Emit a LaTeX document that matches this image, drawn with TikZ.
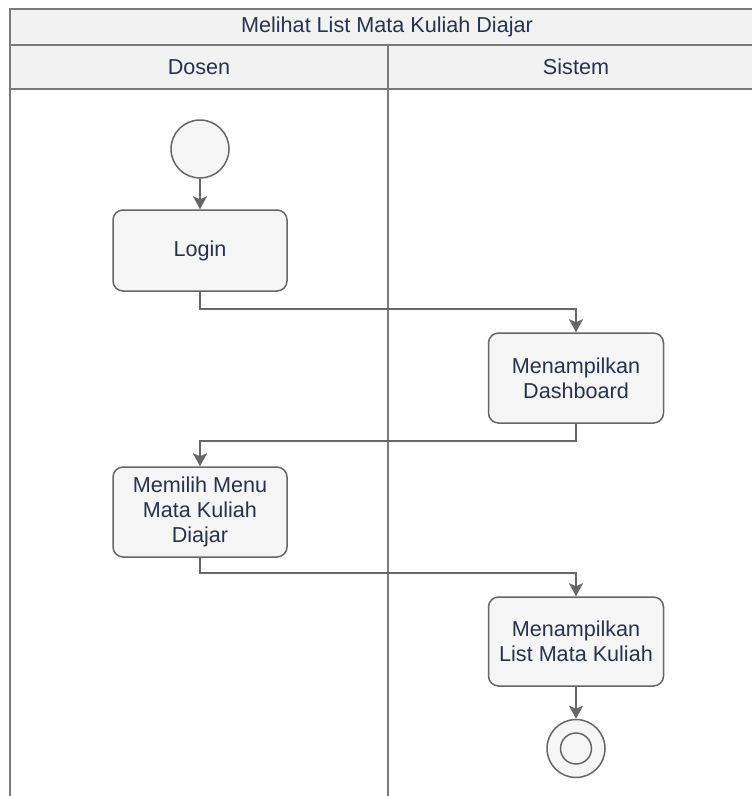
\documentclass[tikz,border=0pt]{standalone}
\usepackage{fontspec}
\setmainfont{Liberation Sans}
\usetikzlibrary{arrows.meta}
\definecolor{txt}{HTML}{27324D}
\definecolor{stroke}{HTML}{666666}
\definecolor{lane}{HTML}{7A7A7A}
\definecolor{boxfill}{HTML}{F5F5F5}
\definecolor{headfill}{HTML}{F2F2F2}
\tikzset{
  lbl/.style={text=txt, font=\fontsize{21.6}{25}\selectfont},
  actbox/.style={draw=stroke, fill=boxfill, line width=1.5pt, rounded corners=10pt,
    align=center, text=txt, font=\fontsize{21.6}{25}\selectfont, inner sep=0pt},
  startnode/.style={circle, draw=stroke, fill=boxfill, line width=1.5pt, minimum size=58pt, inner sep=0pt},
  arr/.style={draw=stroke, line width=2pt, -{Stealth[length=13pt,width=14pt,inset=3pt]}},
  laneline/.style={draw=lane, line width=2pt},
}
\begin{document}
\begin{tikzpicture}[x=1pt,y=-1pt]
\useasboundingbox (0,0) rectangle (752,796);
\clip (0,0) rectangle (752,796);
\fill[white] (0,0) rectangle (752,796);
% swimlane frame
\path[laneline, fill=headfill] (10,9) rectangle (764,45);
\path[laneline, fill=headfill] (10,45) rectangle (764,89);
\draw[laneline] (10,89) -- (10,800);
\draw[laneline] (388,45) -- (388,800);
\draw[laneline] (764,89) -- (764,800);
\node[lbl] (title) at (387,27) {Melihat List Mata Kuliah Diajar};
\node[lbl] (dosen) at (199,67) {Dosen};
\node[lbl] (sistem) at (576,67) {Sistem};
% activities
\node[startnode] (start) at (200,149) {};
\node[actbox, minimum width=174pt, minimum height=81pt] (login) at (200,250.5) {Login};
\node[actbox, minimum width=175pt, minimum height=90pt] (dash) at (576,378) {Menampilkan\\Dashboard};
\node[actbox, minimum width=174pt, minimum height=90pt] (memilih) at (200,512) {Memilih Menu\\Mata Kuliah\\Diajar};
\node[actbox, minimum width=175pt, minimum height=89pt] (list) at (576,641.5) {Menampilkan\\List Mata Kuliah};
\node[startnode] (end) at (576,748.5) {};
\node[circle, draw=stroke, line width=1.5pt, minimum size=31pt, inner sep=0pt] (endin) at (end.center) {};
% connectors
\coordinate (c1) at (0,309);
\coordinate (c2) at (0,441);
\coordinate (c3) at (0,573);
\draw[arr] (start) -- (login);
\draw[arr] (login.south) -- (login.south |- c1) -| (dash.north);
\draw[arr] (dash.south) -- (dash.south |- c2) -| (memilih.north);
\draw[arr] (memilih.south) -- (memilih.south |- c3) -| (list.north);
\draw[arr] (list) -- (end);
\end{tikzpicture}
\end{document}
